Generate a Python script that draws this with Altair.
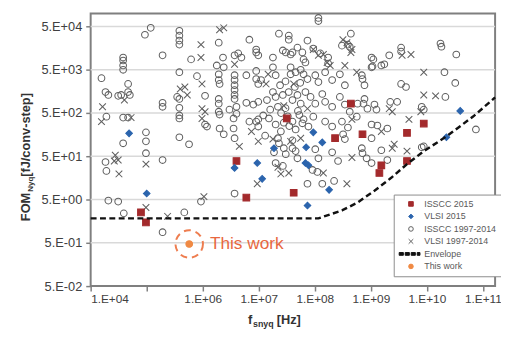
import altair as alt
import pandas as pd

# ---------------- data ----------------
# ISSCC 1997-2014 (open grey circles): (f_snyq [Hz], FOM [fJ/conv-step])
isscc_old = [
    (1.56e4, 3.2e3), (1.84e4, 1.53e3), (2.07e4, 1.31e3), (3.1e4, 1.25e3), (3.5e4, 1.31e3),
    (4.66e4, 1.53e3), (5.0e4, 1.31e3), (1.91e4, 413), (3.8e4, 393), (4.66e4, 393),
    (3.8e4, 9.6e3), (3.8e4, 8.2e3), (3.8e4, 6.3e3), (3.8e4, 5.0e3), (4.66e4, 2.36e3),
    (3.8e4, 100), (9.7e4, 179), (9.7e4, 111), (9.7e4, 59), (9.3e4, 3.23e4), (1.18e5, 4.67e4),
    (1.91e4, 23), (3.1e4, 4.5), (3.9e4, 2.4), (2.07e4, 4.74), (1.84e4, 37),
    (1.92e5, 1.08e4), (1.92e5, 864), (1.92e5, 698), (1.92e5, 41), (1.92e5, 0.88), (4.69e5, 2.53),
    (3.83e5, 3.98e4), (3.83e5, 3.08e4), (3.83e5, 2.37e4), (3.83e5, 1.91e4), (3.83e5, 4.4e3),
    (3.83e5, 1.06e3), (3.83e5, 664), (3.83e5, 440), (3.83e5, 375), (3.83e5, 138), (3.5e5, 1.18e3),
    (5.7e5, 95), (6.2e5, 8.7e3), (7.9e5, 3.57e3), (1.1e6, 272), (1.19e6, 244), (1.1e6, 1.25e3),
    (9.3e5, 4.5), (1.93e6, 2.12e4), (2.3e6, 9.6e3), (1.78e6, 6.3e3), (2.37e6, 5.7e3),
    (1.93e6, 3.94e3), (1.93e6, 2.9e3), (2.0e6, 2.36e3), (1.93e6, 1.06e3), (1.93e6, 825),
    (1.93e6, 537), (2.0e6, 462), (2.0e6, 220), (2.37e6, 162),
    (3.7e6, 1.08e4), (3.7e6, 3.75e3), (3.7e6, 2.9e3), (3.7e6, 2.2e3), (3.7e6, 1.7e3),
    (3.7e6, 1.31e3), (3.7e6, 1.06e3), (3.55e6, 375), (3.55e6, 220), (3.7e6, 131), (3.7e6, 6.9),
    (6.8e6, 2.48e4), (9.0e6, 1.47e4), (9.0e6, 1.26e4), (9.0e6, 4.7e3), (9.0e6, 3.05e3),
    (9.8e6, 2.36e3), (2.29e7, 3.42e4), (3.43e7, 3.08e4), (3.43e7, 2.48e4), (9.8e6, 357),
    (9.8e6, 244), (4.3e6, 1.2e4), (4.9e6, 9.6e3), (9.8e6, 1.08e4), (1.79e7, 9.6e3),
    (2.69e7, 1.4e4), (4.0e7, 1.26e4), (4.9e7, 1.63e4), (9.4e7, 1.55e4), (1.25e8, 1.2e4),
    (1.73e8, 9.6e3), (1.73e8, 7.0e3), (3.05e8, 1.81e4), (4.2e8, 1.71e4), (1.03e9, 9.6e3),
    (6.0e6, 3.75e3), (1.1e7, 2.9e3), (1.79e7, 5.7e3), (2.0e7, 3.75e3), (3.7e7, 5.7e3),
    (3.7e7, 3.94e3), (4.55e7, 4.4e3), (5.6e7, 5.0e3), (6.3e7, 3.94e3), (7.4e7, 3.05e3),
    (1.02e8, 3.75e3), (1.16e8, 2.6e3), (1.53e8, 4.4e3), (2.04e8, 2.9e3), (2.8e8, 3.94e3),
    (3.44e8, 2.2e3), (6.9e8, 3.75e3), (7.7e8, 2.2e3), (1.03e9, 5.7e3),
    (6.0e6, 864), (8.0e6, 785), (9.8e6, 908), (1.79e7, 1.53e3), (2.0e7, 1.18e3),
    (2.69e7, 1.31e3), (3.43e7, 1.53e3), (4.0e7, 1.0e3), (4.9e7, 1.31e3), (5.6e7, 825),
    (6.8e7, 1.53e3), (8.4e7, 1.18e3), (1.02e8, 825), (1.36e8, 1.38e3), (1.53e8, 908),
    (2.04e8, 698), (2.8e8, 1.18e3), (3.44e8, 785), (5.8e8, 825), (7.7e8, 1.06e3), (4.2e8, 537),
    (6.8e6, 317), (9.0e6, 317), (1.52e7, 375), (2.0e7, 272), (2.48e7, 188), (4.0e7, 317),
    (4.55e7, 209), (6.3e7, 357), (7.7e7, 244), (9.4e7, 413), (1.53e8, 317), (2.04e8, 244),
    (3.05e8, 317), (3.9e8, 232), (5.6e8, 413), (1.03e9, 272), (1.03e9, 131), (4.0e7, 77),
    (3.2e8, 162), (2.2e7, 131), (2.29e7, 100), (2.8e7, 77), (3.03e7, 56), (4.0e7, 117),
    (4.55e7, 66), (4.9e7, 45), (9.1e7, 24.2), (1.11e8, 21.8), (1.02e8, 73), (1.16e8, 45),
    (2.04e8, 62), (2.6e8, 39), (6.9e8, 77), (7.1e8, 59), (8.4e8, 45), (1.03e9, 35),
    (1.54e9, 69), (1.97e9, 41), (8.1e9, 81), (7.4e7, 11.6), (1.36e8, 11.6), (2.21e8, 13.5),
    (3.44e8, 125), (1.87e7, 62), (2.0e7, 35), (2.69e7, 30),
    (1.16e8, 7.9e4), (1.16e8, 6.7e4), (7.4e7, 2.37e4), (4.4e8, 3.42e4), (3.9e8, 1.91e4),
    (6.8e7, 7.4e3), (1.11e9, 8.7e3), (1.07e9, 6.0e3), (1.54e9, 6.3e3), (1.74e9, 6.7e3),
    (7.1e8, 3.05e3), (3.47e9, 1.63e4), (3.47e9, 1.32e4), (2.13e9, 1.08e4), (1.75e10, 2.03e4),
    (1.82e10, 1.71e4), (3.35e10, 1.13e4), (2.06e10, 4.4e3), (3.21e10, 2.48e3), (3.47e9, 2.36e3),
    (4.24e9, 2.0e3), (2.14e10, 1.18e3), (2.22e9, 908), (2.95e9, 908), (7.4e8, 825),
    (8.7e8, 632), (1.16e9, 785), (1.26e9, 601), (8.1e9, 698), (8.8e9, 601), (1.31e9, 258),
    (1.97e9, 220), (7.5e10, 209), (8.8e9, 85), (3.03e7, 1.26e4), (3.7e7, 1.13e4),
    (6.0e7, 1.26e4), (6.3e7, 8.7e3),
    (2.2e7, 700), (2.5e7, 500), (3.0e7, 650), (3.3e7, 420), (2.8e7, 300), (3.5e7, 250),
    (5.0e7, 560), (5.3e7, 450), (6.0e7, 290), (2.4e7, 2.2e3), (3.0e7, 2.7e3), (4.4e7, 2.0e3),
    (5.5e7, 2.5e3), (1.4e7, 1.0e3), (1.6e7, 600), (1.3e7, 150), (1.2e7, 440), (3.0e6, 600),
    (4.0e6, 480), (4.0e6, 700),
]

# VLSI 1997-2014 (grey crosses)
vlsi_old = [
    (1.63e4, 698), (1.56e4, 317), (5.26e4, 393), (4.0e4, 1.0e3), (9.7e4, 33), (3.1e4, 41),
    (3.2e4, 19.6), (9.7e4, 3.28), (2.64e4, 39), (2.75e4, 53), (2.36e5, 2.05), (3.97e5, 1.8e3),
    (4.8e5, 2.0e3), (9.3e5, 1.91e4), (9.3e5, 9.6e3), (9.7e5, 2.36e3), (9.7e5, 632),
    (1.1e6, 537), (9.7e5, 375), (5.3e5, 1.31e3), (1.05e6, 5.85), (2.0e6, 4.2e4),
    (2.37e6, 4.67e4), (3.7e6, 6.7e3), (1.47e7, 3.94e3), (1.35e7, 2.36e3), (4.5e6, 85),
    (9.8e6, 111), (9.4e6, 11.6), (2.48e7, 19.6), (4.2e7, 2.36e3), (2.8e7, 740), (7.4e7, 632),
    (7.4e6, 188), (3.7e7, 111), (5.6e7, 131), (4.6e8, 357), (2.2e7, 28), (3.43e7, 20.6),
    (1.42e8, 20.6), (4.6e8, 47), (3.74e8, 11.6), (2.61e9, 95), (2.41e9, 77), (4.42e9, 66),
    (3.18e8, 2.48e4), (3.74e8, 2.12e4), (4.6e8, 1.47e4), (4.4e8, 1.26e4), (9.4e7, 1.47e4),
    (1.16e8, 1.08e4), (1.42e8, 1.13e4), (1.66e8, 7.4e3), (1.88e8, 6.3e3), (3.44e8, 6.3e3),
    (5.6e8, 4.4e3), (3.61e9, 1.08e4), (5.2e9, 1.13e4), (8.8e9, 4.4e3), (8.8e9, 1.31e3),
    (1.43e10, 1.25e3), (2.41e9, 537), (2.13e9, 632), (7.8e9, 537), (4.79e9, 357),
    (1.54e9, 188), (1.79e7, 125),
]

# ISSCC 2015 (red squares)
isscc_2015 = [
    (7.9e4, 2.53), (9.7e4, 1.49), (4.0e6, 39), (6.0e6, 5.55), (4.2e7, 7.2), (3.16e7, 375),
    (2.3e8, 131), (7.1e8, 162), (4.4e8, 825), (4.42e9, 175), (8.8e9, 286), (1.54e9, 31),
    (1.42e9, 20.6), (4.42e9, 39),
]

# VLSI 2015 (blue diamonds)
vlsi_2015 = [
    (4.85e4, 170), (1.0e5, 6.9), (3.7e6, 27), (9.4e6, 35), (1.15e7, 15.1), (1.87e7, 77),
    (7.0e7, 81), (9.4e7, 179), (1.36e8, 105), (6.8e7, 35), (7.7e7, 31), (1.8e8, 8.4),
    (7.4e7, 3.64), (2.23e10, 138), (3.94e10, 560),
]

# This work
this_work = [(5.74e5, 0.47)]

# Envelope (dashed)
env_fs = [1e4, 1.16e8, 3.05e8, 5.8e8, 1.16e9, 2.31e9, 4.42e9, 8.8e9, 2.23e10, 6.67e10, 1.65e11]
env_fom = [1.84, 1.84, 2.81, 4.27, 8.0, 15.9, 33, 65.6, 144, 414, 1150]

x_ticks = [1e4, 1e5, 1e6, 1e7, 1e8, 1e9, 1e10, 1e11]
y_ticks = [0.05, 0.5, 5, 50, 500, 5000, 50000]
y_grid = [0.5, 5, 50, 500, 5000, 50000]

series_names = ["ISSCC 2015", "VLSI 2015", "ISSCC 1997-2014", "VLSI 1997-2014", "Envelope", "This work"]
point_series = ["ISSCC 2015", "VLSI 2015", "ISSCC 1997-2014", "VLSI 1997-2014", "This work"]

# ---------------- build tables ----------------
rows = []
for name, pts in [("ISSCC 1997-2014", isscc_old), ("VLSI 1997-2014", vlsi_old),
                  ("ISSCC 2015", isscc_2015), ("VLSI 2015", vlsi_2015), ("This work", this_work)]:
    for fs, fom in pts:
        rows.append({"fs": fs, "fom": fom, "series": name})
df = pd.DataFrame(rows)
df["order"] = range(len(df))

env_df = pd.DataFrame({"fs": env_fs, "fom": env_fom})
grid_df = pd.DataFrame({"g": y_grid})
tw_df = pd.DataFrame({"fs": [this_work[0][0]], "fom": [this_work[0][1]], "label": ["This work"]})

dash_symbol = ("M-5.1,-0.6H-3.3V0.6H-5.1Z M-2.5,-0.6H-0.7V0.6H-2.5Z "
               "M0.1,-0.6H1.9V0.6H0.1Z M2.7,-0.6H3.9V0.6H2.7Z")
shapes = ["square", "diamond", "circle", "M-1,-1L1,1M-1,1L1,-1", dash_symbol, "circle"]
fills = ["#a32a2c", "#2b64ad", "transparent", "transparent", "#111111", "#f08a44"]
strokes = ["#a32a2c", "#2b64ad", "#5f5f5f", "#5f5f5f", "#111111", "#f08a44"]
sizes = [46, 46, 36, 28, 26]  # for point_series

legend = alt.Legend(title=None, orient="none", legendX=308, legendY=184,
                    fillColor="white", strokeColor="#8c8c8c", padding=5,
                    labelFontSize=9, labelColor="#595959", labelFont="Liberation Sans",
                    symbolSize=22, rowPadding=2.7, symbolStrokeWidth=1, symbolOffset=8,
                    labelOffset=9)

xsc = alt.Scale(type="log", domain=[1e4, 1.65e11], nice=False)
ysc = alt.Scale(type="log", domain=[0.05, 1e5], nice=False)

x_axis = alt.Axis(values=x_ticks, grid=False, title=None,
                  labelExpr="'1.E+' + (round(log(datum.value)/LN10) < 10 ? '0' : '') + round(log(datum.value)/LN10)")
y_axis = alt.Axis(values=y_ticks, grid=False, title=None,
                  labelExpr="'5.E' + (round(log(datum.value/5)/LN10) < 0 ? '-0' : '+0') + abs(round(log(datum.value/5)/LN10))")

X = alt.X("fs:Q", scale=xsc, axis=x_axis)
Y = alt.Y("fom:Q", scale=ysc, axis=y_axis)

grid = alt.Chart(grid_df).mark_rule(color="#d9d9d9", strokeWidth=1.5).encode(
    y=alt.Y("g:Q", scale=ysc, axis=y_axis))

pts = alt.Chart(df).mark_point(opacity=1, strokeWidth=1.05).encode(
    x=X, y=Y,
    shape=alt.Shape("series:N", scale=alt.Scale(domain=series_names, range=shapes), legend=legend),
    fill=alt.Fill("series:N", scale=alt.Scale(domain=series_names, range=fills), legend=legend),
    stroke=alt.Stroke("series:N", scale=alt.Scale(domain=series_names, range=strokes), legend=legend),
    size=alt.Size("series:N", scale=alt.Scale(domain=point_series, range=sizes), legend=None),
    order=alt.Order("order:Q"),
)

env = alt.Chart(env_df).mark_line(color="#111111", strokeDash=[6, 3.5], strokeWidth=2.5).encode(x=X, y=Y)

ring = alt.Chart(tw_df).mark_point(shape="circle", size=780, filled=False, color="#ee7d4f",
                                   strokeWidth=2, strokeDash=[7, 5], opacity=1).encode(x=X, y=Y)
tw_label = alt.Chart(tw_df).mark_text(align="left", baseline="middle", dx=21, fontSize=17.5,
                                      font="Liberation Sans", color="#e8673f").encode(x=X, y=Y, text="label:N")

def txt(t, x, y, size, angle=0, baseline="middle"):
    return alt.Chart(pd.DataFrame({"t": [t]})).mark_text(
        align="left", baseline=baseline, angle=angle, fontSize=size, fontWeight="bold",
        font="Liberation Sans", color="#333333").encode(
        x=alt.value(x), y=alt.value(y), text="t:N")

ytitle = [txt("FOM", -66, 211, 13, 270), txt("Nyq", -61, 181, 8, 270),
          txt(" [fJ/conv-step]", -66, 166, 13, 270)]
xtitle = [txt("f", 160, 316, 13, 0, "alphabetic"), txt("snyq", 165, 319, 9, 0, "alphabetic"),
          txt("[Hz]", 189, 316, 13, 0, "alphabetic")]

chart = alt.layer(grid, pts, env, ring, tw_label, *ytitle, *xtitle).properties(
    width=411, height=277,
    autosize=alt.AutoSizeParams(type="none"),
    padding={"left": 84, "top": 3, "right": 6, "bottom": 42},
).configure_view(stroke="#7f7f7f", strokeWidth=2).configure_axis(
    domain=False, tickColor="#7f7f7f", tickSize=5, tickWidth=1.5,
    labelFont="Liberation Sans", labelFontSize=13, labelColor="#404040",
).configure_axisY(labelPadding=4).configure_axisX(labelPadding=3, labelFontSize=12)

chart.save("out.html", embed_options={"renderer": "svg", "actions": False})
